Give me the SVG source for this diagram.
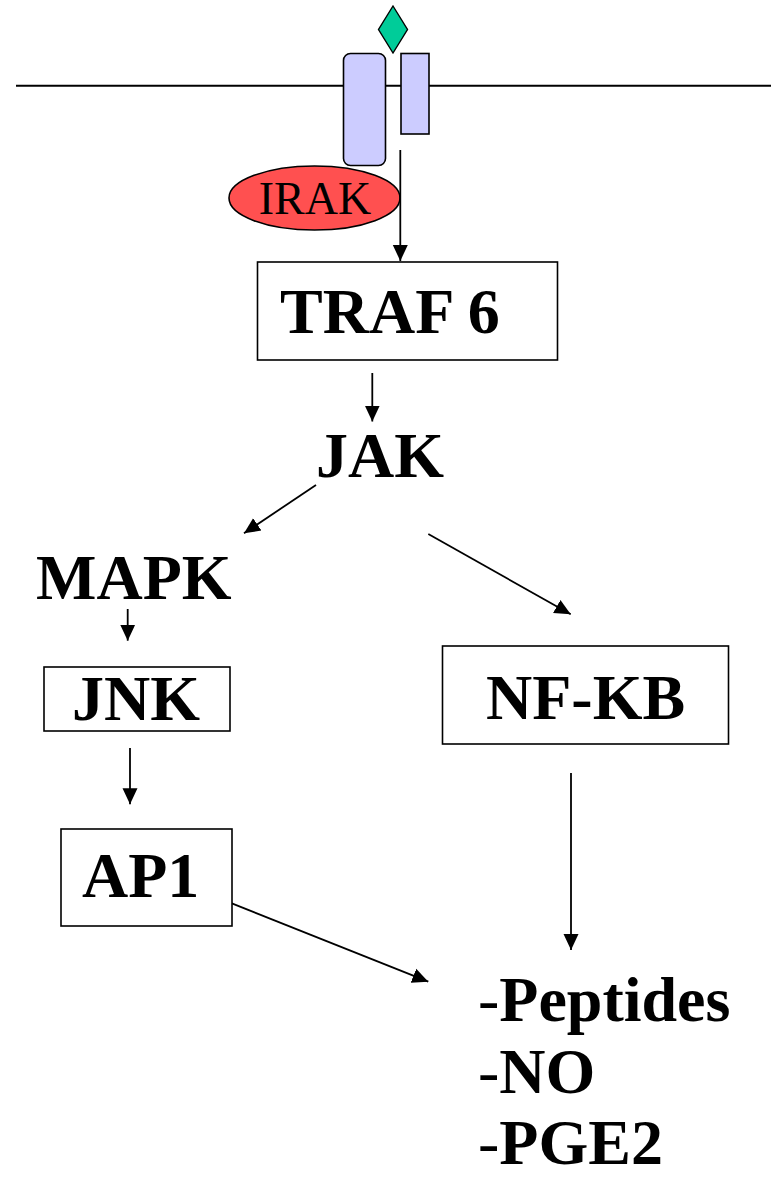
<svg xmlns="http://www.w3.org/2000/svg" width="771" height="1178" viewBox="0 0 771 1178">
<style>
  .ln { stroke: #000; stroke-width: 1.8; fill: none; }
  .box { fill: #fff; stroke: #000; stroke-width: 1.6; }
  .lbl { font-family: "Liberation Serif", "Times New Roman", serif; font-weight: bold; font-size: 64px; fill: #000; }
  .rec { fill: #ccccff; stroke: #000; stroke-width: 1.6; }
  .dash { font-weight: normal; }
</style>
<defs>
  <marker id="ah" markerUnits="userSpaceOnUse" markerWidth="17" markerHeight="17" viewBox="0 0 17 17" refX="16" refY="8.5" orient="auto">
    <path d="M0,1 L16,8.5 L0,16 Z" fill="#000"/>
  </marker>
</defs>
<rect width="771" height="1178" fill="#fff"/>
<g id="membrane">
  <line x1="16" y1="85.7" x2="771" y2="85.7" stroke="#000" stroke-width="2"/>
</g>
<g id="receptor">
  <rect class="rec" x="343.5" y="53.5" width="42" height="112" rx="7" ry="7"/>
  <rect class="rec" x="401" y="53.5" width="28" height="80.5"/>
  <polygon points="393,6 407.5,29.5 393,53 378.5,29.5" fill="#00cc99" stroke="#000" stroke-width="1.4"/>
</g>
<g id="irak">
  <ellipse cx="314.5" cy="198" rx="85.5" ry="32" fill="#ff5050" stroke="#000" stroke-width="1.6"/>
  <text x="315" y="213.5" text-anchor="middle" font-family="Liberation Serif, Times New Roman, serif" font-size="46" fill="#000">IRAK</text>
</g>
<g id="connectors">
  <line class="ln" x1="400.3" y1="150" x2="400.3" y2="261" marker-end="url(#ah)"/>
  <line class="ln" x1="372.3" y1="373" x2="372.3" y2="421.5" marker-end="url(#ah)"/>
  <line class="ln" x1="316" y1="485" x2="244" y2="533.3" marker-end="url(#ah)"/>
  <line class="ln" x1="428.3" y1="534" x2="570.7" y2="614.3" marker-end="url(#ah)"/>
  <line class="ln" x1="127.7" y1="609" x2="127.7" y2="640.7" marker-end="url(#ah)"/>
  <line class="ln" x1="130" y1="748" x2="130" y2="804.3" marker-end="url(#ah)"/>
  <line class="ln" x1="571" y1="773" x2="571" y2="950" marker-end="url(#ah)"/>
  <line class="ln" x1="230" y1="902.7" x2="428.3" y2="981.7" marker-end="url(#ah)"/>
</g>
<g id="traf6">
  <rect class="box" x="257.5" y="262" width="300" height="98"/>
  <text class="lbl" x="280" y="333.3">TRAF 6</text>
</g>
<g id="jak">
  <text class="lbl" x="316" y="476.7">JAK</text>
</g>
<g id="mapk">
  <text class="lbl" x="36" y="599">MAPK</text>
</g>
<g id="jnk">
  <rect class="box" x="44" y="667" width="186" height="64"/>
  <text class="lbl" x="72" y="720" font-size="63">JNK</text>
</g>
<g id="ap1">
  <rect class="box" x="61" y="829" width="171" height="97"/>
  <text class="lbl" x="82" y="897.3" font-size="61">AP1</text>
</g>
<g id="nfkb">
  <rect class="box" x="442.5" y="646" width="286" height="98"/>
  <text class="lbl" x="486" y="719">NF-KB</text>
</g>
<g id="products">
  <text class="lbl" x="478" y="1021" font-size="62"><tspan class="dash">-</tspan>Peptides</text>
  <text class="lbl" x="478" y="1093" font-size="62"><tspan class="dash">-</tspan>NO</text>
  <text class="lbl" x="478" y="1164" font-size="62"><tspan class="dash">-</tspan>PGE2</text>
</g>
</svg>
